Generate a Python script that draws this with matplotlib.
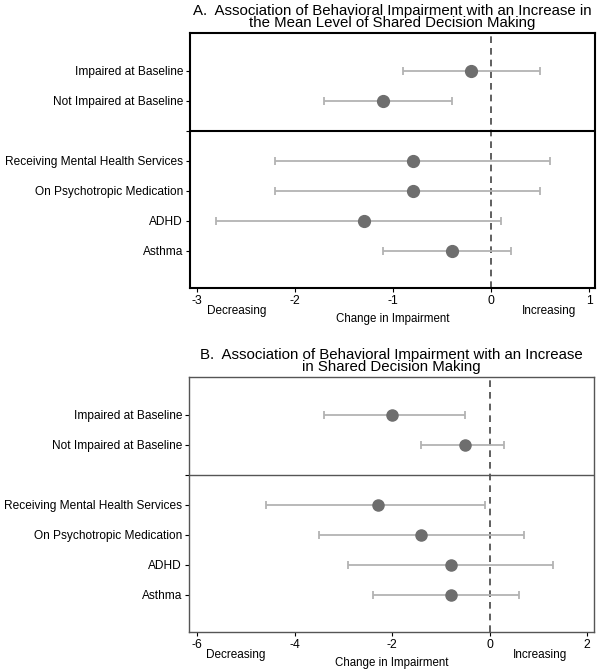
import numpy as np
import matplotlib.pyplot as plt

plt.rcParams['font.family'] = ['Liberation Sans', 'DejaVu Sans']

# 行标签（第3行为分隔线）
labels = ["Impaired at Baseline", "Not Impaired at Baseline", "",
          "Receiving Mental Health Services", "On Psychotropic Medication",
          "ADHD", "Asthma"]
rows = [1, 2, 4, 5, 6, 7]

# A 面板：估计值和置信区间
a_est = [-0.2, -1.1, -0.8, -0.8, -1.3, -0.4]
a_lo = [-0.9, -1.7, -2.2, -2.2, -2.8, -1.1]
a_hi = [0.5, -0.4, 0.6, 0.5, 0.1, 0.2]
a_ticks = [-3, -2, -1, 0, 1]

# B 面板
b_est = [-2.0, -0.5, -2.3, -1.4, -0.8, -0.8]
b_lo = [-3.4, -1.4, -4.6, -3.5, -2.9, -2.4]
b_hi = [-0.5, 0.3, -0.1, 0.7, 1.3, 0.6]
b_ticks = [-6, -4, -2, 0, 2]

title_a = "A.  Association of Behavioral Impairment with an Increase in\nthe Mean Level of Shared Decision Making"
title_b = "B.  Association of Behavioral Impairment with an Increase\nin Shared Decision Making"

fig = plt.figure(figsize=(6, 6.69), dpi=100)
ax_a = fig.add_axes([0.3167, 0.5695, 0.675, 0.3812])
ax_b = fig.add_axes([0.315, 0.0553, 0.675, 0.3812])


def draw(ax, est, lo, hi, ticks, xlim, title, frame_col, frame_lw, ms, inc_x):
    est = np.array(est)
    err = [est - np.array(lo), np.array(hi) - est]
    ax.axvline(0, color="#444444", lw=1.2, ls=(0, (4, 3)), zorder=1)
    ax.axhline(3, color=frame_col, lw=frame_lw, zorder=1)
    ax.errorbar(est, rows, xerr=err, fmt="none", ecolor="#b3b3b3",
                elinewidth=1.3, capsize=3, capthick=1.3, zorder=2)
    ax.plot(est, rows, "o", color="#6e6e6e", ms=ms, zorder=3)
    ax.set_xlim(*xlim)
    ax.set_ylim(8.25, -0.27)
    ax.set_yticks(range(1, 8))
    ax.set_yticklabels(labels, fontsize=8.6)
    ax.set_xticks(ticks)
    ax.set_xticklabels([str(t) for t in ticks], fontsize=8.8)
    ax.tick_params(direction="out", length=3, width=0.8, pad=2, colors="black")
    for s in ax.spines.values():
        s.set_color(frame_col)
        s.set_linewidth(frame_lw)
    ax.set_title(title, fontsize=10.8, linespacing=0.9, pad=4)
    ax.set_xlabel("Change in Impairment", fontsize=8.3, labelpad=4)
    ax.text(0.042, -0.09, "Decreasing", transform=ax.transAxes, fontsize=8.5,
            ha="left", va="center")
    ax.text(inc_x, -0.09, "Increasing", transform=ax.transAxes, fontsize=8.5,
            ha="left", va="center")


draw(ax_a, a_est, a_lo, a_hi, a_ticks, (-3.07, 1.06), title_a, "black", 1.5, 8.5, 0.82)
draw(ax_b, b_est, b_lo, b_hi, b_ticks, (-6.17, 2.14), title_b, "#555555", 1.0, 8.0, 0.80)

plt.savefig("out.png", dpi=100)
